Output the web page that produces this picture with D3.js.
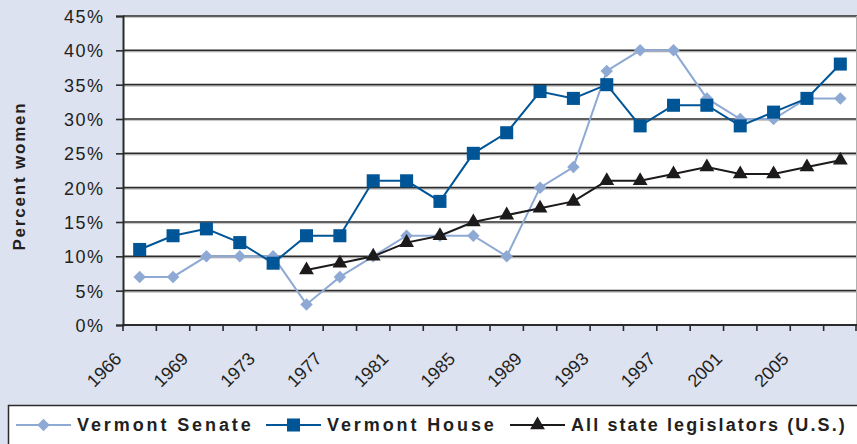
<!DOCTYPE html>
<html lang="en">
<head>
    <meta charset="UTF-8">
    <title>Women in the Vermont Legislature</title>
    <script src="https://cdnjs.cloudflare.com/ajax/libs/d3/7.8.5/d3.min.js"></script>
    <style>
        body {
            margin: 0;
            background-color: #dde2f0;
        }
        svg {
            display: block;
            font-family: 'Liberation Sans', Arial, sans-serif;
        }
        .legend-text {
            font-size: 18px;
            font-weight: bold;
            fill: #231f20;
        }
    </style>
</head>
<body>
    <div id="chart"></div>

    <script>
        // Legislative session years (categories)
        const years = ["1966", "1967", "1969", "1971", "1973", "1975", "1977", "1979", "1981", "1983", "1985",
                       "1987", "1989", "1991", "1993", "1995", "1997", "1999", "2001", "2003", "2005", "2007"];
        // Only every other year is labelled on the axis
        const yearLabels = ["1966", "1969", "1973", "1977", "1981", "1985", "1989", "1993", "1997", "2001", "2005"];

        // Percent women
        const senate = [7, 7, 10, 10, 10, 3, 7, 10, 13, 13, 13, 10, 20, 23, 37, 40, 40, 33, 30, 30, 33, 33];
        const house = [11, 13, 14, 12, 9, 13, 13, 21, 21, 18, 25, 28, 34, 33, 35, 29, 32, 32, 29, 31, 33, 38];
        const allStates = [null, null, null, null, null, 8, 9, 10, 12, 13, 15, 16, 17, 18, 21, 21, 22, 23, 22, 22, 23, 24];

        const yTicks = [0, 5, 10, 15, 20, 25, 30, 35, 40, 45];

        const seriesNames = ["Vermont Senate", "Vermont House", "All state legislators (U.S.)"];
        const seriesColors = ["#8ea9d3", "#005596", "#1c1a1b"];

        const W = 857, H = 444;
        const plot = { left: 123, right: 857, top: 16, bottom: 325 };

        const svg = d3.select("#chart")
            .append("svg")
            .attr("width", W)
            .attr("height", H);

        // background
        svg.append("rect")
            .attr("width", W)
            .attr("height", H)
            .attr("fill", "#dde2f0");

        // Scales
        const x = d3.scaleBand()
            .domain(years)
            .range([plot.left, plot.right])
            .padding(0);
        const cx = d => x(d) + x.bandwidth() / 2;

        const y = d3.scaleLinear()
            .domain([0, 45])
            .range([plot.bottom, plot.top]);

        // Plot area
        svg.append("rect")
            .attr("x", plot.left)
            .attr("y", plot.top)
            .attr("width", plot.right - plot.left)
            .attr("height", plot.bottom - plot.top)
            .attr("fill", "white");

        // Grid lines (dark line with a light shadow under it)
        yTicks.filter(d => d > 0).forEach(d => {
            svg.append("line")
                .attr("x1", plot.left).attr("x2", plot.right)
                .attr("y1", y(d) + 1.6).attr("y2", y(d) + 1.6)
                .attr("stroke", "#c4c4c4")
                .attr("stroke-width", 1);
            svg.append("line")
                .attr("x1", plot.left).attr("x2", plot.right)
                .attr("y1", y(d)).attr("y2", y(d))
                .attr("stroke", "#2b2b2b")
                .attr("stroke-width", 1.6);
        });

        // right border
        svg.append("line")
            .attr("x1", plot.right - 0.5).attr("x2", plot.right - 0.5)
            .attr("y1", plot.top).attr("y2", plot.bottom)
            .attr("stroke", "#b0b0b0")
            .attr("stroke-width", 1);

        // Y axis
        const yAxis = svg.append("g")
            .attr("transform", `translate(${plot.left},0)`)
            .call(d3.axisLeft(y).tickValues(yTicks).tickFormat(d => d + "%").tickSize(7).tickPadding(11.5));
        yAxis.select(".domain").attr("stroke", "#2b2b2b").attr("stroke-width", 2);
        yAxis.selectAll(".tick line").attr("stroke", "#2b2b2b").attr("stroke-width", 1.6);
        yAxis.selectAll(".tick text")
            .attr("font-size", null)
            .attr("font-family", null)
            .style("font-size", "18px")
            .style("letter-spacing", "1.5px")
            .attr("fill", "#231f20")
            .attr("dy", "0.36em");

        // X axis line and ticks at category boundaries
        svg.append("line")
            .attr("x1", plot.left - 1).attr("x2", plot.right)
            .attr("y1", plot.bottom).attr("y2", plot.bottom)
            .attr("stroke", "#2b2b2b")
            .attr("stroke-width", 2);
        svg.selectAll(".xtick")
            .data(years.map(d => x(d)).concat([plot.right - 1]))
            .enter()
            .append("line")
            .attr("class", "xtick")
            .attr("x1", d => d).attr("x2", d => d)
            .attr("y1", plot.bottom).attr("y2", plot.bottom + 6)
            .attr("stroke", "#2b2b2b")
            .attr("stroke-width", 1.6);

        // X labels, rotated
        svg.selectAll(".xlabel")
            .data(yearLabels)
            .enter()
            .append("text")
            .attr("class", "xlabel")
            .attr("transform", d => `translate(${cx(d) - 17},${plot.bottom + 35}) rotate(-45)`)
            .attr("text-anchor", "end")
            .style("font-size", "18px")
            .attr("fill", "#231f20")
            .text(d => d);

        // Y axis title
        svg.append("text")
            .attr("transform", "translate(25,176) rotate(-90)")
            .attr("text-anchor", "middle")
            .style("font-size", "17px")
            .style("font-weight", "bold")
            .style("letter-spacing", "1.8px")
            .attr("fill", "#231f20")
            .text("Percent women");

        // Marker shapes
        const markers = [
            d3.symbol().type(d3.symbolDiamond2).size(100),
            d3.symbol().type(d3.symbolSquare).size(170),
            d3.symbol().type(d3.symbolTriangle).size(95)
        ];

        const line = d3.line()
            .defined(d => d.v !== null)
            .x(d => cx(d.year))
            .y(d => y(d.v));

        [senate, house, allStates].forEach((vals, i) => {
            const pts = years.map((yr, j) => ({ year: yr, v: vals[j] }));
            svg.append("path")
                .datum(pts)
                .attr("d", line)
                .attr("fill", "none")
                .attr("stroke", seriesColors[i])
                .attr("stroke-width", 2);
            svg.selectAll(".m" + i)
                .data(pts.filter(d => d.v !== null))
                .enter()
                .append("path")
                .attr("class", "m" + i)
                .attr("d", markers[i])
                .attr("transform", d => `translate(${cx(d.year)},${y(d.v)})`)
                .attr("fill", seriesColors[i]);
        });

        // Legend
        svg.append("rect")
            .attr("x", 8.5)
            .attr("y", 405.5)
            .attr("width", W)
            .attr("height", 50)
            .attr("fill", "white")
            .attr("stroke", "#2b2b2b")
            .attr("stroke-width", 1.5);

        const legendX = [16, 266, 510];
        const legendSpacing = [2.9, 2.9, 2.1];
        const legendY = 425;
        seriesNames.forEach((name, i) => {
            const g = svg.append("g").attr("transform", `translate(${legendX[i]},${legendY})`);
            g.append("line")
                .attr("x1", 0).attr("x2", 55)
                .attr("y1", 0).attr("y2", 0)
                .attr("stroke", seriesColors[i])
                .attr("stroke-width", 2);
            g.append("path")
                .attr("d", markers[i])
                .attr("transform", "translate(27.5,0)")
                .attr("fill", seriesColors[i]);
            g.append("text")
                .attr("class", "legend-text")
                .attr("x", 61)
                .attr("dy", "0.36em")
                .style("letter-spacing", legendSpacing[i] + "px")
                .text(name);
        });
    </script>
</body>
</html>
